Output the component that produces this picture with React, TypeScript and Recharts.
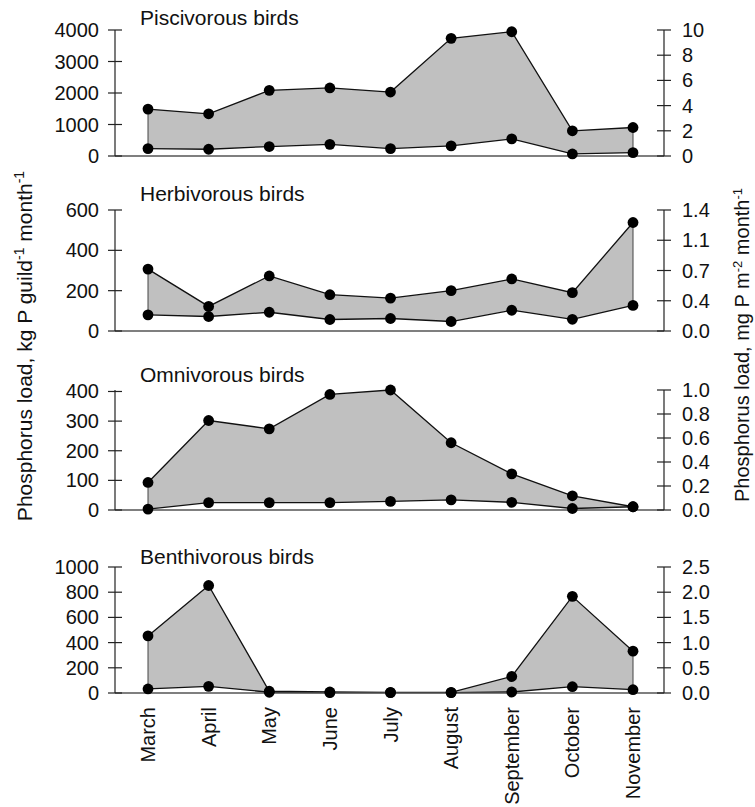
import { ComposedChart, Area, Line, XAxis, YAxis, ReferenceLine } from 'recharts'

const MONTHS = ['March', 'April', 'May', 'June', 'July', 'August', 'September', 'October', 'November']

// kg P guild-1 month-1, upper and lower estimates
const PISC_UPPER = [1490, 1340, 2085, 2160, 2030, 3735, 3945, 800, 905]
const PISC_LOWER = [235, 215, 300, 370, 235, 320, 545, 65, 105]
const HERB_UPPER = [307, 122, 273, 180, 163, 200, 258, 190, 538]
const HERB_LOWER = [80, 72, 93, 57, 62, 47, 103, 58, 127]
const OMNI_UPPER = [93, 302, 274, 390, 405, 227, 122, 48, 11]
const OMNI_LOWER = [3, 25, 25, 25, 29, 34, 26, 5, 11]
const BENTH_UPPER = [453, 853, 14, 8, 5, 5, 131, 767, 332]
const BENTH_LOWER = [32, 53, 6, 3, 3, 3, 8, 50, 26]

// left (kg P) and right (mg P m-2) tick values and labels
const PISC_LEFT = [0, 1000, 2000, 3000, 4000]
const PISC_RIGHT = [0, 2, 4, 6, 8, 10]
const PISC_RIGHT_LABELS = ['0', '2', '4', '6', '8', '10']
const HERB_LEFT = [0, 200, 400, 600]
const HERB_RIGHT = [0, 0.35, 0.7, 1.05, 1.4]
const HERB_RIGHT_LABELS = ['0.0', '0.4', '0.7', '1.1', '1.4']
const OMNI_LEFT = [0, 100, 200, 300, 400]
const OMNI_RIGHT = [0, 0.2, 0.4, 0.6, 0.8, 1.0]
const OMNI_RIGHT_LABELS = ['0.0', '0.2', '0.4', '0.6', '0.8', '1.0']
const BENTH_LEFT = [0, 200, 400, 600, 800, 1000]
const BENTH_RIGHT = [0, 0.5, 1.0, 1.5, 2.0, 2.5]
const BENTH_RIGHT_LABELS = ['0.0', '0.5', '1.0', '1.5', '2.0', '2.5']

const FONT = '"Liberation Sans", Arial, sans-serif'
const FS = 20
const TITLE_FS = 21
const W = 755
const AXIS_L = 115
const AXIS_R = 664
const FILL = '#c0c0c0'

type PanelDef = {
  title: string
  upper: number[]
  lower: number[]
  left: number[]
  right: number[]
  rightLabels: string[]
  top: number
  plotH: number
  titleY: number
  last?: boolean
}

const PANELS: PanelDef[] = [
  { title: 'Piscivorous birds', upper: PISC_UPPER, lower: PISC_LOWER, left: PISC_LEFT, right: PISC_RIGHT, rightLabels: PISC_RIGHT_LABELS, top: 30, plotH: 126, titleY: 24 },
  { title: 'Herbivorous birds', upper: HERB_UPPER, lower: HERB_LOWER, left: HERB_LEFT, right: HERB_RIGHT, rightLabels: HERB_RIGHT_LABELS, top: 210, plotH: 121, titleY: 200 },
  { title: 'Omnivorous birds', upper: OMNI_UPPER, lower: OMNI_LOWER, left: OMNI_LEFT, right: OMNI_RIGHT, rightLabels: OMNI_RIGHT_LABELS, top: 390, plotH: 120, titleY: 381 },
  { title: 'Benthivorous birds', upper: BENTH_UPPER, lower: BENTH_LOWER, left: BENTH_LEFT, right: BENTH_RIGHT, rightLabels: BENTH_RIGHT_LABELS, top: 567, plotH: 126, titleY: 563, last: true },
]

function LeftTick(props: any) {
  const { x, y, payload } = props
  return (
    <g>
      <line x1={x + 9} x2={x + 23} y1={y} y2={y} stroke="#222" strokeWidth={1.2} />
      <text x={x} y={y} dy="0.35em" textAnchor="end" fontSize={FS} fontFamily={FONT} fill="#111">
        {payload.value}
      </text>
    </g>
  )
}

function RightTick(props: any) {
  const { x, y, payload, ticks, labels } = props
  const i = ticks.indexOf(payload.value)
  return (
    <g>
      <line x1={x - 25} x2={x - 11} y1={y} y2={y} stroke="#222" strokeWidth={1.2} />
      <text x={x} y={y} dy="0.35em" textAnchor="start" fontSize={FS} fontFamily={FONT} fill="#111">
        {i >= 0 ? labels[i] : payload.value}
      </text>
    </g>
  )
}

function MonthTick(props: any) {
  const { x, y, payload } = props
  return (
    <g transform={`translate(${x},${y})`}>
      <text transform="rotate(-90)" x={-6} y={0} dy="0.35em" textAnchor="end" fontSize={FS} fontFamily={FONT} fill="#111">
        {payload.value}
      </text>
    </g>
  )
}

function Panel({ p }: { p: PanelDef }) {
  const rows = MONTHS.map((m, i) => ({
    month: m,
    upper: p.upper[i],
    lower: p.lower[i],
    range: [p.lower[i], p.upper[i]],
  }))
  const n = MONTHS.length - 1
  const xH = p.last ? 110 : 1
  const height = p.plotH + 20 + xH
  return (
    <div style={{ position: 'absolute', left: 0, top: p.top - 10 }}>
      <ComposedChart width={W} height={height} data={rows} margin={{ top: 10, right: 0, bottom: 10, left: 0 }}>
        <XAxis
          dataKey="month"
          type="category"
          padding={{ left: 33, right: 31 }}
          axisLine={{ stroke: '#555', strokeWidth: 1.5 }}
          tickLine={false}
          tick={p.last ? <MonthTick /> : false}
          height={xH}
          interval={0}
        />
        <YAxis
          yAxisId="left"
          width={AXIS_L}
          domain={[0, p.left[p.left.length - 1]]}
          ticks={p.left}
          interval={0}
          axisLine={{ stroke: '#222', strokeWidth: 1.2 }}
          tickLine={false}
          tickSize={7}
          tickMargin={9}
          tick={<LeftTick />}
        />
        <YAxis
          yAxisId="right"
          orientation="right"
          width={W - AXIS_R}
          domain={[0, p.right[p.right.length - 1]]}
          allowDataOverflow
          ticks={p.right}
          interval={0}
          axisLine={{ stroke: '#222', strokeWidth: 1.2 }}
          tickLine={false}
          tickSize={7}
          tickMargin={11}
          tick={<RightTick ticks={p.right} labels={p.rightLabels} />}
        />
        <Area
          yAxisId="left"
          dataKey="range"
          fill={FILL}
          fillOpacity={1}
          stroke="none"
          dot={false}
          activeDot={false}
          isAnimationActive={false}
        />
        <ReferenceLine
          yAxisId="left"
          segment={[{ x: MONTHS[0], y: p.lower[0] }, { x: MONTHS[0], y: p.upper[0] }]}
          stroke="#444"
          strokeWidth={1}
        />
        <ReferenceLine
          yAxisId="left"
          segment={[{ x: MONTHS[n], y: p.lower[n] }, { x: MONTHS[n], y: p.upper[n] }]}
          stroke="#444"
          strokeWidth={1}
        />
        <Line
          yAxisId="left"
          dataKey="upper"
          stroke="#111"
          strokeWidth={1.3}
          dot={{ r: 5.4, fill: '#000', stroke: 'none' }}
          activeDot={false}
          isAnimationActive={false}
        />
        <Line
          yAxisId="left"
          dataKey="lower"
          stroke="#111"
          strokeWidth={1.3}
          dot={{ r: 5.4, fill: '#000', stroke: 'none' }}
          activeDot={false}
          isAnimationActive={false}
        />
      </ComposedChart>
    </div>
  )
}

export default function App() {
  return (
    <div style={{ position: 'absolute', left: 0, top: 0, width: W, height: 807, background: '#fff', fontFamily: FONT, color: '#111' }}>
      {PANELS.map((p) => (
        <Panel key={p.title} p={p} />
      ))}
      {PANELS.map((p) => (
        <div
          key={p.title + '-t'}
          style={{ position: 'absolute', left: 140, top: p.titleY - 17.4, fontSize: TITLE_FS, lineHeight: '21px', whiteSpace: 'nowrap' }}
        >
          {p.title}
        </div>
      ))}
      <div
        style={{
          position: 'absolute', left: 22, top: 346, fontSize: TITLE_FS, lineHeight: '21px', whiteSpace: 'nowrap',
          transform: 'translate(-50%, -50%) rotate(-90deg)',
        }}
      >
        Phosphorus load, kg P guild<sup style={{ fontSize: 14 }}>-1</sup> month<sup style={{ fontSize: 14 }}>-1</sup>
      </div>
      <div
        style={{
          position: 'absolute', left: 740, top: 345, fontSize: 20, lineHeight: '20px', whiteSpace: 'nowrap',
          transform: 'translate(-50%, -50%) rotate(-90deg)',
        }}
      >
        Phosphorus load, mg P m<sup style={{ fontSize: 13 }}>-2</sup> month<sup style={{ fontSize: 13 }}>-1</sup>
      </div>
    </div>
  )
}
